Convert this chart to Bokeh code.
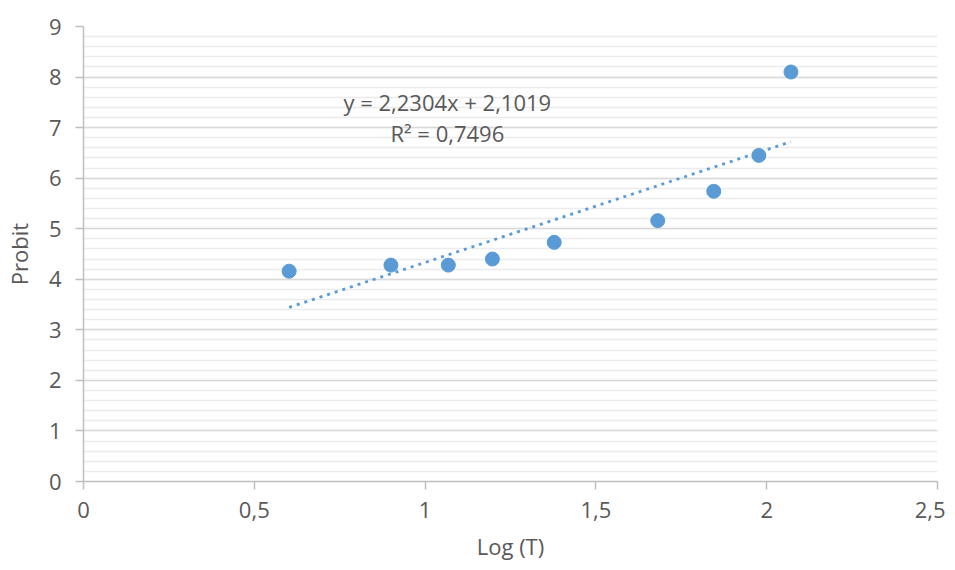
from bokeh.plotting import figure
from bokeh.models import FixedTicker, Label, Range1d
from bokeh.embed import file_html
from bokeh.resources import INLINE

log_t = [0.602, 0.900, 1.068, 1.197, 1.378, 1.681, 1.845, 1.977, 2.071]
probit = [4.16, 4.28, 4.28, 4.40, 4.73, 5.16, 5.74, 6.45, 8.10]
slope = 2.2304
intercept = 2.1019
eq_text = "y = 2,2304x + 2,1019"
r2_text = "R² = 0,7496"
x_ticks = [0, 0.5, 1, 1.5, 2, 2.5]
x_tick_labels = ["0", "0,5", "1", "1,5", "2", "2,5"]
y_ticks = [0, 1, 2, 3, 4, 5, 6, 7, 8, 9]

FONT = "Open Sans"
TXT = "#595959"
BLUE = "#5B9BD5"

p = figure(width=945, height=570, output_backend="svg", toolbar_location=None,
           x_range=Range1d(0, 2.5), y_range=Range1d(0, 9),
           min_border_left=80, min_border_right=8, min_border_top=26, min_border_bottom=89)
p.outline_line_color = None

# grid
p.xgrid.grid_line_color = None
p.ygrid.ticker = FixedTicker(ticks=y_ticks, minor_ticks=[i * 0.2 for i in range(46)])
p.ygrid.grid_line_color = "#d9d9d9"
p.ygrid.grid_line_width = 1.5
p.ygrid.minor_grid_line_color = "#ececec"
p.ygrid.minor_grid_line_width = 1.5

# axes
p.xaxis.ticker = FixedTicker(ticks=x_ticks)
p.xaxis.major_label_overrides = {t: l for t, l in zip(x_ticks, x_tick_labels)}
p.yaxis.ticker = FixedTicker(ticks=y_ticks)
for ax in (p.xaxis, p.yaxis):
    ax.axis_line_color = "#bfbfbf"
    ax.axis_line_width = 1.5
    ax.major_tick_line_color = "#bfbfbf"
    ax.major_tick_line_width = 1.5
    ax.major_tick_in = 0
    ax.major_tick_out = 8
    ax.minor_tick_line_color = None
    ax.major_label_text_font = FONT
    ax.major_label_text_font_size = "22px"
    ax.major_label_text_color = TXT
    ax.axis_label_text_font = FONT
    ax.axis_label_text_font_size = "22px"
    ax.axis_label_text_color = TXT
    ax.axis_label_text_font_style = "normal"
p.xaxis.axis_label = "Log (T)"
p.yaxis.axis_label = "Probit"
p.xaxis.major_label_standoff = 12
p.yaxis.major_label_standoff = 14
p.xaxis.axis_label_standoff = 10
p.yaxis.axis_label_standoff = 12

# trendline
x0, x1 = min(log_t), max(log_t)
p.line([x0, x1], [slope * x0 + intercept, slope * x1 + intercept],
       line_color=BLUE, line_width=2.8, line_dash="3 5", line_cap="butt")

p.scatter(log_t, probit, size=14, fill_color=BLUE, line_color=BLUE)

p.add_layout(Label(x=1.065, y=7.50, text=eq_text, text_align="center", text_baseline="middle",
                   text_font=FONT, text_font_size="22px", text_color=TXT))
p.add_layout(Label(x=1.065, y=6.89, text=r2_text, text_align="center", text_baseline="middle",
                   text_font=FONT, text_font_size="22px", text_color=TXT))

open("out.html", "w").write(file_html(p, INLINE))
